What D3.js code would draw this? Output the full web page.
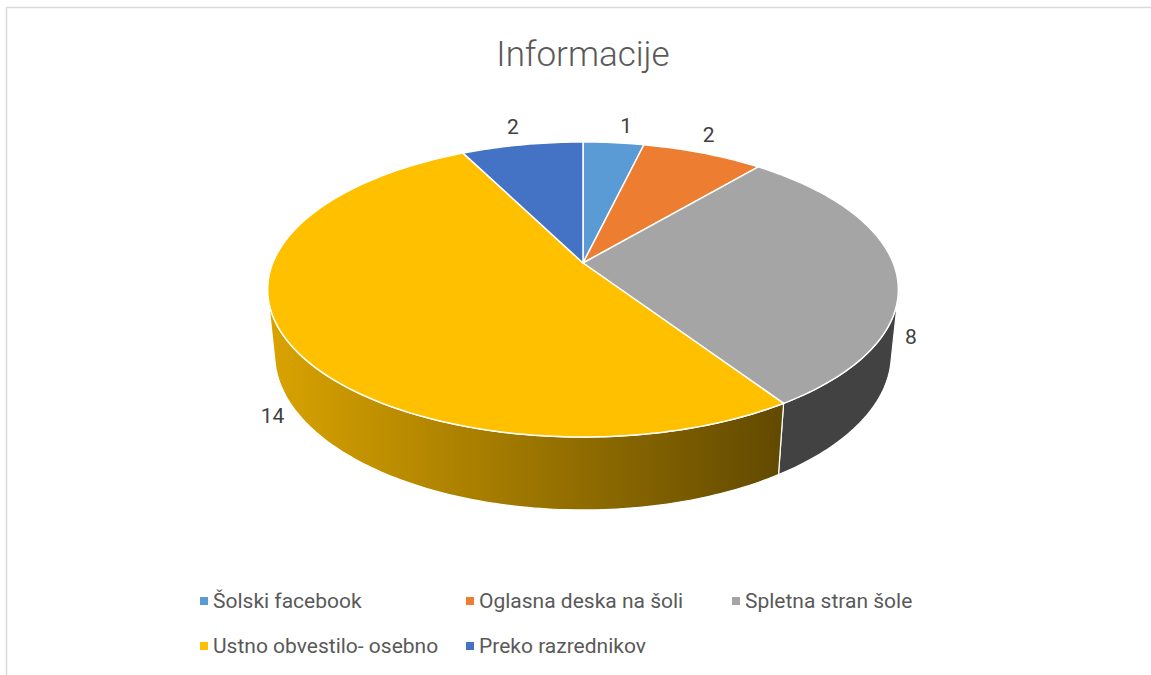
<!DOCTYPE html>
<html>
<head>
<meta charset="utf-8">
<script src="https://cdn.jsdelivr.net/npm/d3@7"></script>
<style>
  body { margin: 0; background: #fff; }
  svg text { font-family: Roboto, "Liberation Sans", sans-serif; }
</style>
</head>
<body>
<svg id="chart" width="1151" height="675"></svg>
<script>
// data
const categories = ["Šolski facebook", "Oglasna deska na šoli", "Spletna stran šole", "Ustno obvestilo- osebno", "Preko razrednikov"];
const values = [1, 2, 8, 14, 2];
const colors = ["#5b9bd5", "#ed7d31", "#a5a5a5", "#ffc000", "#4472c4"];
const title = "Informacije";

let svg = d3.select("#chart");

// chart frame (only top and left edge show in the picture)
svg.append("rect")
  .attr("x", 6.5).attr("y", 7.5)
  .attr("width", 1160).attr("height", 680)
  .attr("fill", "#fff")
  .attr("stroke", "#d9d9d9")
  .attr("stroke-width", 1.5);

svg.append("text")
  .attr("x", 583).attr("y", 66)
  .attr("text-anchor", "middle")
  .attr("font-size", 35)
  .attr("font-weight", 300)
  .attr("fill", "#595959")
  .text(title);

// perspective setup for the 3d disc
let cx = 583, cy = 263;
let phi = 27.4 * Math.PI / 180;
let cs = Math.cos(phi), sn = Math.sin(phi);
let D = 4.941, F = 1532.8, depth = 0.237;

// theta: angle clockwise from 12 o'clock, r: radius, w: how far down the side
function proj(theta, r, w) {
  let u = r * Math.sin(theta);
  let v = -r * Math.cos(theta);
  let yc = v * sn + w * cs;
  let zc = D - v * cs + w * sn;
  return [cx + F * u / zc, cy + F * yc / zc];
}

let pie = d3.pie().sort(null).value(d => d);
let arcs = pie(values);

// silhouette angles of the side wall
let v0 = 1 / (D * cs);
let visA = Math.PI - Math.acos(v0);
let visB = Math.PI + Math.acos(v0);

let defs = svg.append("defs");
let xLeft = proj(visB, 1, 0)[0];
let xMid = proj(arcs[3].startAngle, 1, 0)[0];

// side brightness: bright at the left, dark towards the right
function shade(x) {
  let t = Math.max(0, Math.min(1, (x - xLeft) / (xMid - xLeft)));
  return 0.85 - 0.47 * t;
}

let line = d3.line();
let step = Math.PI / 180;

// side walls
arcs.forEach((a, i) => {
  let a0 = Math.max(a.startAngle, visA);
  let a1 = Math.min(a.endAngle, visB);
  if (a1 <= a0) return;
  let top = [], bottom = [];
  for (let t = a0; t < a1; t += step) {
    top.push(proj(t, 1, 0));
    bottom.push(proj(t, 1, depth));
  }
  top.push(proj(a1, 1, 0));
  bottom.push(proj(a1, 1, depth));
  let pts = top.concat(bottom.reverse());

  let x0 = d3.min(pts, p => p[0]), x1 = d3.max(pts, p => p[0]);
  let base = d3.rgb(colors[i]);
  let grad = defs.append("linearGradient")
    .attr("id", "side" + i)
    .attr("gradientUnits", "userSpaceOnUse")
    .attr("x1", x0).attr("x2", x1).attr("y1", 0).attr("y2", 0);
  [[0, x0], [1, x1]].forEach(([o, x]) => {
    let k = i == 3 ? shade(x) : 0.4;
    grad.append("stop")
      .attr("offset", o)
      .attr("stop-color", d3.rgb(base.r * k, base.g * k, base.b * k));
  });

  svg.append("path")
    .attr("d", line(pts) + "Z")
    .attr("fill", "url(#side" + i + ")")
    .attr("stroke", "#fff")
    .attr("stroke-width", 1.2)
    .attr("stroke-linejoin", "round");
});

// top faces
arcs.forEach((a, i) => {
  let pts = [proj(0, 0, 0)];
  for (let t = a.startAngle; t < a.endAngle; t += step) pts.push(proj(t, 1, 0));
  pts.push(proj(a.endAngle, 1, 0));
  svg.append("path")
    .attr("d", line(pts) + "Z")
    .attr("fill", colors[i])
    .attr("stroke", "#fff")
    .attr("stroke-width", 1.5)
    .attr("stroke-linejoin", "round");
});

// data labels: back ones sit above the rim, front ones below the side
arcs.forEach((a, i) => {
  let mid = (a.startAngle + a.endAngle) / 2;
  let back = Math.cos(mid) > 0;
  let p;
  if (back) {
    let t = mid < Math.PI ? mid * 0.8 + 0.05 : mid;
    p = proj(t, 1.18, 0);
  } else {
    p = proj(mid, 1.07, depth);
  }
  svg.append("text")
    .attr("x", p[0]).attr("y", p[1])
    .attr("dy", "0.35em")
    .attr("text-anchor", "middle")
    .attr("font-size", 21)
    .attr("fill", "#404040")
    .text(values[i]);
});

// legend
let legend = svg.append("g").attr("transform", "translate(200,601)");
categories.forEach((c, i) => {
  let g = legend.append("g")
    .attr("transform", "translate(" + (i % 3) * 266 + "," + Math.floor(i / 3) * 45 + ")");
  g.append("rect")
    .attr("x", 0).attr("y", -4)
    .attr("width", 8).attr("height", 8)
    .attr("fill", colors[i]);
  g.append("text")
    .attr("x", 13).attr("y", 0)
    .attr("dy", "0.35em")
    .attr("font-size", 21)
    .attr("fill", "#595959")
    .text(c);
});
</script>
</body>
</html>
